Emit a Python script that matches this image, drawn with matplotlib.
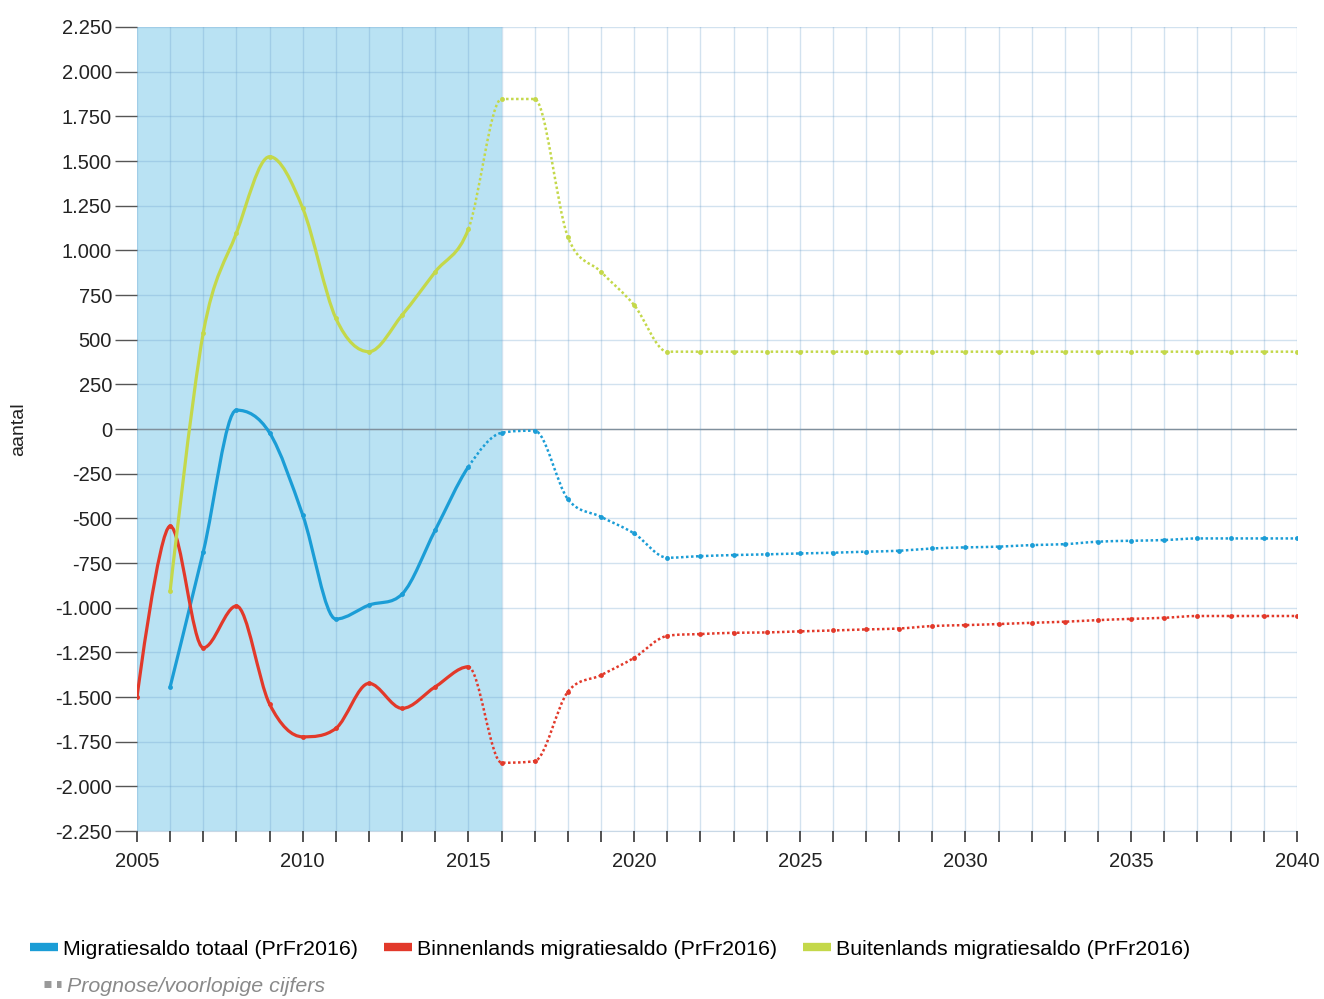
import numpy as np
import matplotlib
matplotlib.use("Agg")
import matplotlib.pyplot as plt
from matplotlib.path import Path
from matplotlib.patches import PathPatch
from matplotlib.lines import Line2D
from matplotlib.ticker import FuncFormatter, MultipleLocator

plt.rcParams['font.family'] = ['Liberation Sans', 'DejaVu Sans']

# data
years_totaal = list(range(2006, 2041))
totaal = [-1442, -686, 106, -21, -481, -1063, -985, -923, -565, -211,
          -21, -9, -392, -491, -584, -720, -711, -705, -701, -696,
          -692, -686, -681, -668, -662, -658, -649, -644, -630, -625,
          -621, -612, -612, -612, -612]

years_binnen = list(range(2005, 2041))
binnen = [-1498, -543, -1224, -990, -1539, -1722, -1675, -1423, -1563, -1442,
          -1330, -1867, -1858, -1470, -1377, -1280, -1157, -1147, -1140, -1138,
          -1132, -1127, -1121, -1116, -1102, -1097, -1091, -1084, -1078, -1069,
          -1062, -1056, -1046, -1046, -1046, -1046]

years_buiten = list(range(2006, 2041))
buiten = [-905, 540, 1097, 1524, 1236, 620, 433, 638, 880, 1119,
          1847, 1847, 1076, 880, 694, 433, 433, 433, 433, 433,
          433, 433, 433, 433, 433, 433, 433, 433, 433, 433,
          433, 433, 433, 433, 433]

labels = ["Migratiesaldo totaal (PrFr2016)",
          "Binnenlands migratiesaldo (PrFr2016)",
          "Buitenlands migratiesaldo (PrFr2016)"]
colors = ["#1b9dd6", "#e2392a", "#c4d84a"]
last_real_year = 2015
shade_years = (2005, 2016)


def spline_controls(x, y, smoothing=2.0):
    # highcharts-like spline control points
    n = len(x)
    left = [(x[i], y[i]) for i in range(n)]
    right = [(x[i], y[i]) for i in range(n)]
    denom = smoothing + 1
    for i in range(1, n - 1):
        lx, ly = x[i - 1], y[i - 1]
        nx, ny = x[i + 1], y[i + 1]
        px, py = x[i], y[i]
        lcx = (smoothing * px + lx) / denom
        lcy = (smoothing * py + ly) / denom
        rcx = (smoothing * px + nx) / denom
        rcy = (smoothing * py + ny) / denom
        if rcx != lcx:
            corr = (rcy - lcy) * (rcx - px) / (rcx - lcx) + py - rcy
            lcy += corr
            rcy += corr
        if lcy > ly and lcy > py:
            lcy = max(ly, py)
            rcy = 2 * py - lcy
        elif lcy < ly and lcy < py:
            lcy = min(ly, py)
            rcy = 2 * py - lcy
        if rcy > ny and rcy > py:
            rcy = max(ny, py)
            lcy = 2 * py - rcy
        elif rcy < ny and rcy < py:
            rcy = min(ny, py)
            lcy = 2 * py - rcy
        left[i] = (lcx, lcy)
        right[i] = (rcx, rcy)
    return left, right


def draw_spline(ax, x, y, start, stop, **kw):
    left, right = spline_controls(x, y)
    verts = [(x[start], y[start])]
    codes = [Path.MOVETO]
    for i in range(start + 1, stop + 1):
        verts += [right[i - 1], left[i], (x[i], y[i])]
        codes += [Path.CURVE4] * 3
    ax.add_patch(PathPatch(Path(verts, codes), facecolor="none", **kw))


fig = plt.figure(figsize=(13.24, 9.99), dpi=100)
ax = fig.add_axes([0.1035, 0.168, 0.876, 0.805])

ax.axvspan(shade_years[0], shade_years[1], color="#b9e2f3", zorder=0, lw=0)

series = [(years_totaal, totaal), (years_binnen, binnen), (years_buiten, buiten)]
for (xs, ys), c in zip(series, colors):
    split = xs.index(last_real_year)
    draw_spline(ax, xs, ys, 0, split, edgecolor=c, lw=2.3, zorder=3)
    draw_spline(ax, xs, ys, split, len(xs) - 1, edgecolor=c, lw=1.8,
                linestyle=(0, (1, 1)), zorder=3)
    ax.plot(xs, ys, "o", color=c, ms=3.5, mec="none", zorder=4)

ax.axhline(0, color="#8a8a8a", lw=1, zorder=2)

ax.set_xlim(2005, 2040)
ax.set_ylim(-2250, 2250)
ax.yaxis.set_major_locator(MultipleLocator(250))
ax.xaxis.set_major_locator(MultipleLocator(5))
ax.xaxis.set_minor_locator(MultipleLocator(1))
ax.yaxis.set_major_formatter(FuncFormatter(lambda v, p: f"{int(v):,}".replace(",", ".")))

ax.grid(True, which="both", axis="x", color="#6a9fcc", alpha=0.3, lw=1, zorder=1)
ax.grid(True, which="major", axis="y", color="#6a9fcc", alpha=0.3, lw=1, zorder=1)
ax.set_axisbelow(False)

for s in ["top", "right", "left"]:
    ax.spines[s].set_visible(False)
ax.spines["bottom"].set_color("#c8d8e6")

ax.tick_params(axis="y", length=16, width=1, color="#555555", labelsize=14.5, pad=2)
ax.tick_params(axis="x", which="both", length=8, width=1.2, color="#333333",
               labelsize=14.5, pad=7, direction="out")
for lbl in ax.get_xticklabels() + ax.get_yticklabels():
    lbl.set_color("#222222")

ax.set_ylabel("aantal", fontsize=14, color="#222222", labelpad=20)

handles = [Line2D([], [], color=c, lw=6, solid_capstyle="butt") for c in colors]
fig.legend(handles, labels, loc="center left", bbox_to_anchor=(0.0227, 0.05),
           ncol=3, frameon=False, fontsize=15.4, handlelength=1.3,
           handletextpad=0.25, columnspacing=1.2, borderpad=0, borderaxespad=0)

prog = Line2D([], [], color="#999999", lw=5, linestyle=(0, (1, 0.8)),
              dash_capstyle="butt")
leg2 = fig.legend([prog], ["Prognose/voorlopige cijfers"], loc="center left",
                  bbox_to_anchor=(0.033, 0.013), frameon=False, fontsize=15.4,
                  handlelength=0.8, handletextpad=0.3,
                  borderpad=0, borderaxespad=0)
for t in leg2.get_texts():
    t.set_color("#8a8a8a")
    t.set_style("italic")

fig.savefig("out.png", dpi=100)
